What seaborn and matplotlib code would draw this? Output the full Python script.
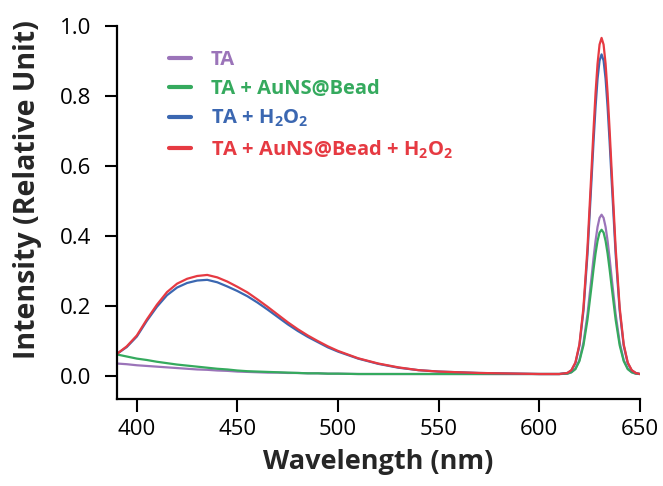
import matplotlib
matplotlib.use("Agg")
import matplotlib.pyplot as plt
import seaborn as sns
import pandas as pd

# ---------------- data ----------------
wavelength = [390, 395, 400, 405, 410, 415, 420, 425, 430, 435, 440, 445, 450,
              455, 460, 465, 470, 475, 480, 485, 490, 495, 500, 510, 520, 530,
              540, 550, 560, 570, 580, 590, 600, 610, 614, 616, 618, 620, 622,
              624, 626, 627, 628, 629, 630, 631, 632, 633, 634, 635, 636, 638,
              640, 642, 644, 646, 648, 650]

ta = [0.036, 0.034, 0.031, 0.029, 0.027, 0.025, 0.023, 0.021, 0.019, 0.018,
      0.016, 0.015, 0.013, 0.012, 0.011, 0.010, 0.010, 0.009, 0.009, 0.008,
      0.008, 0.007, 0.007, 0.006, 0.006, 0.006, 0.006, 0.006, 0.006, 0.006,
      0.006, 0.006, 0.006, 0.006, 0.007, 0.011, 0.021, 0.046, 0.096, 0.177,
      0.282, 0.336, 0.386, 0.426, 0.452, 0.461, 0.452, 0.426, 0.386, 0.336,
      0.282, 0.177, 0.096, 0.046, 0.021, 0.011, 0.007, 0.006]

ta_bead = [0.062, 0.056, 0.050, 0.046, 0.041, 0.037, 0.033, 0.030, 0.027, 0.024,
           0.021, 0.019, 0.016, 0.014, 0.013, 0.012, 0.011, 0.010, 0.009, 0.008,
           0.008, 0.007, 0.007, 0.006, 0.006, 0.006, 0.006, 0.006, 0.006, 0.006,
           0.006, 0.006, 0.006, 0.006, 0.007, 0.011, 0.020, 0.043, 0.088, 0.161,
           0.256, 0.305, 0.350, 0.386, 0.410, 0.418, 0.410, 0.386, 0.350, 0.305,
           0.256, 0.161, 0.088, 0.043, 0.020, 0.011, 0.007, 0.006]

ta_h2o2 = [0.063, 0.083, 0.113, 0.158, 0.198, 0.231, 0.253, 0.266, 0.273, 0.275,
           0.268, 0.256, 0.243, 0.228, 0.210, 0.190, 0.169, 0.148, 0.129, 0.112,
           0.097, 0.082, 0.070, 0.050, 0.035, 0.024, 0.017, 0.013, 0.011, 0.009,
           0.008, 0.007, 0.006, 0.006, 0.009, 0.016, 0.037, 0.087, 0.187, 0.348,
           0.560, 0.669, 0.768, 0.849, 0.901, 0.919, 0.901, 0.849, 0.768, 0.669,
           0.560, 0.348, 0.187, 0.087, 0.037, 0.016, 0.009, 0.006]

ta_bead_h2o2 = [0.063, 0.085, 0.116, 0.162, 0.204, 0.240, 0.264, 0.278, 0.286, 0.289,
                0.282, 0.270, 0.255, 0.239, 0.219, 0.198, 0.176, 0.154, 0.134, 0.116,
                0.100, 0.085, 0.072, 0.051, 0.036, 0.025, 0.017, 0.013, 0.011, 0.009,
                0.008, 0.007, 0.006, 0.006, 0.009, 0.017, 0.039, 0.091, 0.196, 0.366,
                0.589, 0.703, 0.808, 0.892, 0.947, 0.966, 0.947, 0.892, 0.808, 0.703,
                0.589, 0.366, 0.196, 0.091, 0.039, 0.017, 0.009, 0.006]

labels = ["TA", "TA + AuNS@Bead",
          r"TA + H$_\mathbf{2}$O$_\mathbf{2}$",
          r"TA + AuNS@Bead + H$_\mathbf{2}$O$_\mathbf{2}$"]
series = [ta, ta_bead, ta_h2o2, ta_bead_h2o2]
colors = ["#9b74b9", "#35aa5e", "#3b67b1", "#e63a42"]

xticks = [400, 450, 500, 550, 600, 650]
yticks = [0.0, 0.2, 0.4, 0.6, 0.8, 1.0]

# ---------------- build long-form table ----------------
rows = []
for lab, vals in zip(labels, series):
    for w, v in zip(wavelength, vals):
        rows.append({"Wavelength": w, "Intensity": v, "Sample": lab})
df = pd.DataFrame(rows)

sns.set_theme(style="ticks")
plt.rcParams["font.family"] = ["Open Sans", "DejaVu Sans"]
plt.rcParams["mathtext.fontset"] = "custom"
plt.rcParams["mathtext.rm"] = "Open Sans"
plt.rcParams["mathtext.bf"] = "Open Sans:bold"

fig = plt.figure(figsize=(6.63, 4.86), dpi=100)
ax = fig.add_axes([0.176, 0.18, 0.789, 0.7665])

sns.lineplot(data=df, x="Wavelength", y="Intensity", hue="Sample",
             hue_order=labels, palette=dict(zip(labels, colors)),
             estimator=None, sort=True, linewidth=1.6, ax=ax)

ax.set_xlim(390, 650)
ax.set_ylim(-0.064, 1.0)
ax.set_xticks(xticks)
ax.set_yticks(yticks)
ax.set_yticklabels([f"{t:.1f}" for t in yticks])
ax.set_xticklabels([str(t) for t in xticks])

for s in ["top", "right"]:
    ax.spines[s].set_visible(False)
for s in ["left", "bottom"]:
    ax.spines[s].set_linewidth(1.6)
    ax.spines[s].set_color("black")
ax.tick_params(direction="out", length=9, width=1.5, labelsize=16,
               colors="black")
ax.tick_params(axis="y", pad=9)
ax.tick_params(axis="x", pad=6)

ax.set_xlabel("Wavelength (nm)", fontsize=19.5, fontweight="bold", labelpad=6)
ax.set_ylabel("Intensity (Relative Unit)", fontsize=20.5, fontweight="bold")
ax.yaxis.set_label_coords(-0.142, 0.56)

leg = ax.legend(loc="upper left", bbox_to_anchor=(0.066, 0.985), frameon=False,
                handlelength=1.1, handletextpad=0.95, labelspacing=0.45,
                labelcolor="linecolor",
                prop={"size": 14.5, "weight": "bold", "family": "Open Sans"})
for line in leg.get_lines():
    line.set_linewidth(3)

fig.savefig("out.png", dpi=100)
